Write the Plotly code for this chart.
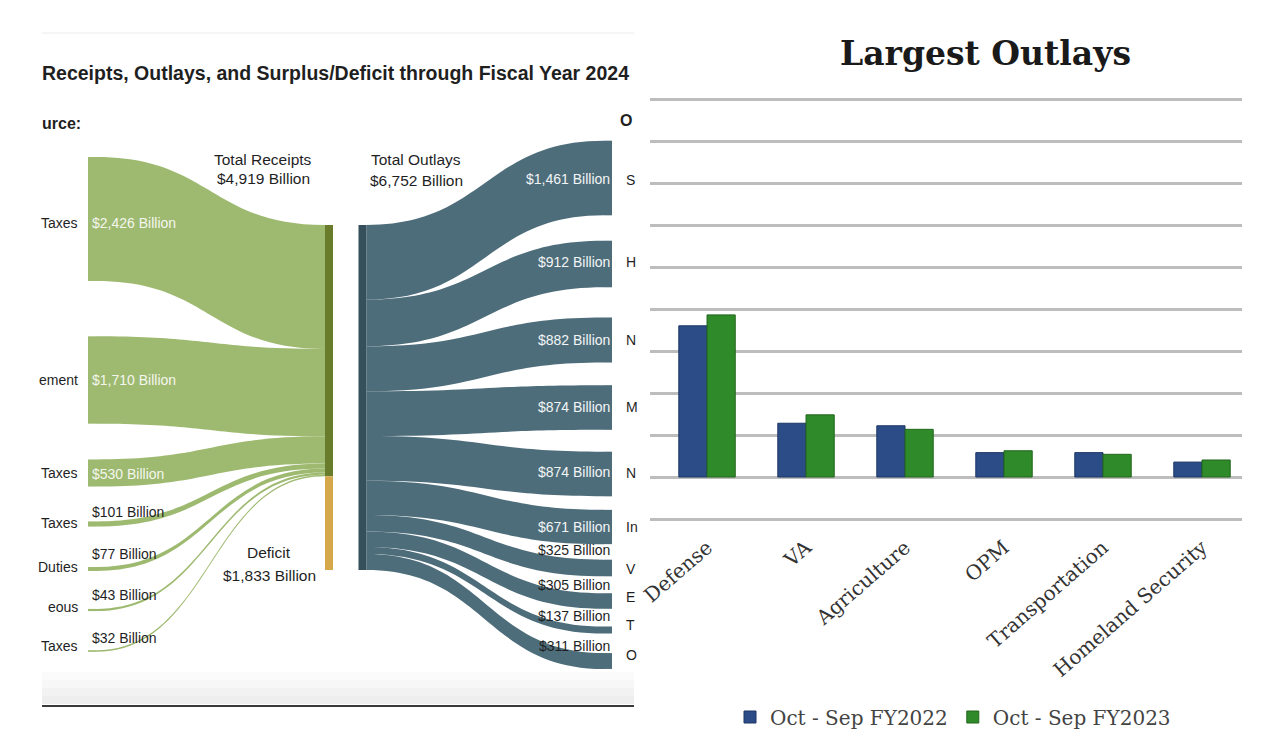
import plotly.graph_objects as go

# ---------------- data ----------------
receipt_sources = ["Individual Income Taxes", "Social Insurance and Retirement",
                   "Corporation Income Taxes", "Excise Taxes", "Customs Duties",
                   "Miscellaneous", "Estate and Gift Taxes"]
receipt_values = [2426, 1710, 530, 101, 77, 43, 32]
receipts_total = 4919
deficit_total = 1833
outlays_total = 6752
outlay_functions = ["Social Security", "Health", "Net Interest", "Medicare",
                    "National Defense", "Income Security",
                    "Veterans Benefits and Services",
                    "Education, Training, Employment, and Social Services",
                    "Transportation", "Other"]
outlay_values = [1461, 912, 882, 874, 874, 671, 325, 305, 137, 311]

# the left panel is cropped in the picture: only these parts of the names show
src_visible_text = ["Taxes", "ement", "Taxes", "Taxes", "Duties", "eous", "Taxes"]
dst_visible_text = ["S", "H", "N", "M", "N", "In", "V", "E", "T", "O"]
header_visible_text = ["urce:", "O"]

agencies = ["Defense", "VA", "Agriculture", "OPM", "Transportation", "Homeland Security"]
outlays_fy2022 = [720, 256, 244, 116, 116, 71]
outlays_fy2023 = [772, 296, 227, 125, 108, 81]
series_names = ["Oct - Sep FY2022", "Oct - Sep FY2023"]

# ---------------- layout constants (pixels) ----------------
FIG_W, FIG_H = 1288, 752


def px_x(v):
    return v / FIG_W


def px_y(v):
    return 1 - v / FIG_H


SK_L, SK_R, SK_T, SK_B = 40, 640, 100, 700
SK_W, SK_H = SK_R - SK_L, SK_B - SK_T
OUTLAY_NODE_PX = 345
KY = OUTLAY_NODE_PX / outlays_total
NODE_PAD = (SK_H - KY * outlays_total) / (len(outlay_values) - 1)
NODE_THICK = 8
MID_TOP = 225

src_cx, rec_cx, out_cx, dst_cx = 92, 329, 362.5, 608
src_cy = [219, 380, 473, 524, 569, 610, 651]
dst_cy = [178, 264, 340, 407.5, 474, 527, 568, 601, 630, 661]
rec_cy = MID_TOP + KY * receipts_total / 2
def_cy = MID_TOP + KY * receipts_total + KY * deficit_total / 2
out_cy = MID_TOP + KY * outlays_total / 2

src_label_y = [223, 380, 474, 512, 554, 595, 638]
dst_label_y = [179, 262, 340, 407, 472, 527, 550, 585, 616, 646]
src_name_y = [223, 380, 473, 523, 567, 607, 646]
dst_name_y = [180, 262, 340, 407, 473, 527, 569, 597, 625, 655]

GREEN = "#9eba70"
OLIVE = "#687c2c"
GOLD = "#d5a94b"
TEAL = "#4e6d7a"
TEAL_NODE = "#35505b"
DARK = "#1f1f1f"
SANS = "Liberation Sans, Arial, sans-serif"
SERIF = "DejaVu Serif, serif"

n_src, n_dst = len(receipt_values), len(outlay_values)
REC, DEF, OUT, DST0 = n_src, n_src + 1, n_src + 2, n_src + 3

node_names = receipt_sources + ["Total Receipts", "Deficit", "Total Outlays"] + outlay_functions
node_x_px = [src_cx] * n_src + [rec_cx, rec_cx, out_cx] + [dst_cx] * n_dst
node_y_px = src_cy + [rec_cy, def_cy, out_cy] + dst_cy
node_colors = [GREEN] * n_src + [OLIVE, GOLD, TEAL_NODE] + [TEAL] * n_dst

link_source = list(range(n_src)) + [REC, DEF] + [OUT] * n_dst
link_target = [REC] * n_src + [OUT, OUT] + [DST0 + j for j in range(n_dst)]
link_value = receipt_values + [receipts_total, deficit_total] + outlay_values
link_color = [GREEN] * n_src + ["rgba(0,0,0,0)"] * 2 + [TEAL] * n_dst

fig = go.Figure()

fig.add_trace(go.Sankey(
    arrangement="fixed",
    domain=dict(x=[px_x(SK_L), px_x(SK_R)], y=[px_y(SK_B), px_y(SK_T)]),
    node=dict(
        label=[""] * len(node_names),
        customdata=node_names,
        hovertemplate="%{customdata}<extra></extra>",
        x=[(v - SK_L) / SK_W for v in node_x_px],
        y=[(v - SK_T) / SK_H for v in node_y_px],
        pad=NODE_PAD,
        thickness=NODE_THICK,
        color=node_colors,
        line=dict(width=0),
    ),
    link=dict(source=link_source, target=link_target, value=link_value,
              color=link_color, hoverinfo="none"),
))

# ---------------- bar chart ----------------
bar_colors = ["#2b4c86", "#2f8a29"]
bar_edges = ["#1d3766", "#22661d"]
for name, vals, col, edge in zip(series_names, [outlays_fy2022, outlays_fy2023], bar_colors, bar_edges):
    fig.add_trace(go.Bar(x=agencies, y=vals, name=name, xaxis="x", yaxis="y",
                         marker=dict(color=col, line=dict(color=edge, width=1)),
                         hovertemplate="%{x}: $%{y}B<extra>" + name + "</extra>"))

# ---------------- annotations ----------------
ann = []


def add_text(text, x, y, size, color=DARK, xanchor="center", family=SANS, weight="normal"):
    ann.append(dict(text=text, x=px_x(x), y=px_y(y), xref="paper", yref="paper",
                    xanchor=xanchor, yanchor="middle", showarrow=False,
                    font=dict(family=family, size=size, color=color, weight=weight)))


add_text("Receipts, Outlays, and Surplus/Deficit through Fiscal Year 2024", 40, 73, 19.5,
         xanchor="left", weight="bold")
add_text(header_visible_text[0], 40, 123, 16, xanchor="left", weight="bold")
add_text(header_visible_text[1], 618, 121, 16, xanchor="left", weight="bold")

for t, y in zip(src_visible_text, src_name_y):
    add_text(t, 80, y, 14, xanchor="right")
for t, y in zip(dst_visible_text, dst_name_y):
    add_text(t, 624, y, 14, xanchor="left")

add_text("Total Receipts", 263, 159, 15.5)
add_text(f"${receipts_total:,} Billion", 263, 179, 15.5)
add_text("Total Outlays", 416, 159, 15.5)
add_text(f"${outlays_total:,} Billion", 416, 180, 15.5)
add_text("Deficit", 269, 552, 15.5)
add_text(f"${deficit_total:,} Billion", 269, 575, 15.5)

INSIDE_MIN_PX = 20
for v, y in zip(receipt_values, src_label_y):
    inside = v * KY >= INSIDE_MIN_PX
    add_text(f"${v:,} Billion", 90, y, 14, color="#f4f6ee" if inside else DARK, xanchor="left")
for v, y in zip(outlay_values, dst_label_y):
    inside = v * KY >= INSIDE_MIN_PX
    add_text(f"${v:,} Billion", 612, y, 14, color="#f2f5f6" if inside else DARK, xanchor="right")

add_text("Largest Outlays", 985, 53, 33, color="#1a1a1a", family=SERIF, weight="bold")

# ---------------- shapes (left panel frame) ----------------
shapes = [
    dict(type="line", xref="paper", yref="paper", x0=px_x(42), x1=px_x(634),
         y0=px_y(33), y1=px_y(33), line=dict(color="#ececec", width=1), layer="below"),
]
grad = ["#fbfbfb", "#f7f7f7", "#f2f2f2", "#eeeeee"]
for i, c in enumerate(grad):
    y0 = 672 + i * 8
    shapes.append(dict(type="rect", xref="paper", yref="paper", x0=px_x(42), x1=px_x(634),
                       y0=px_y(y0 + 8), y1=px_y(y0), fillcolor=c, line=dict(width=0),
                       layer="below"))
shapes.append(dict(type="line", xref="paper", yref="paper", x0=px_x(42), x1=px_x(634),
                   y0=px_y(706), y1=px_y(706), line=dict(color="#3a3a3a", width=2),
                   layer="below"))

# bar chart vertical mapping: 0 at y=477px, 200 per 42px
Y_MIN, Y_MAX = -210, 1810
PX_PER_UNIT = 42 / 200
bar_bottom_px = 477 - Y_MIN * PX_PER_UNIT
bar_top_px = 477 - Y_MAX * PX_PER_UNIT

fig.update_layout(
    width=FIG_W, height=FIG_H,
    margin=dict(l=0, r=0, t=0, b=0),
    paper_bgcolor="white", plot_bgcolor="rgba(0,0,0,0)",
    barmode="group", bargap=0.43, bargroupgap=0,
    xaxis=dict(domain=[px_x(650), px_x(1242)], range=[-0.576, 5.404], type="category",
               showgrid=False, zeroline=False, showline=False, ticks="",
               tickangle=-41, ticklabelstandoff=10, automargin=False,
               tickfont=dict(family=SERIF, size=20, color="#333333"), anchor="y"),
    yaxis=dict(domain=[px_y(bar_bottom_px), px_y(bar_top_px)], range=[Y_MIN, Y_MAX],
               tick0=0, dtick=200, showticklabels=False, ticks="",
               showgrid=True, gridcolor="#bdbdbd", gridwidth=3,
               zeroline=True, zerolinecolor="#bdbdbd", zerolinewidth=3,
               showline=False, automargin=False, anchor="x"),
    legend=dict(orientation="h", x=px_x(953), xanchor="center", y=px_y(717),
                yanchor="middle", font=dict(family=SERIF, size=20, color="#444444"),
                bgcolor="rgba(0,0,0,0)", itemwidth=30),
    annotations=ann,
    shapes=shapes,
)

fig.write_html("out.html")
